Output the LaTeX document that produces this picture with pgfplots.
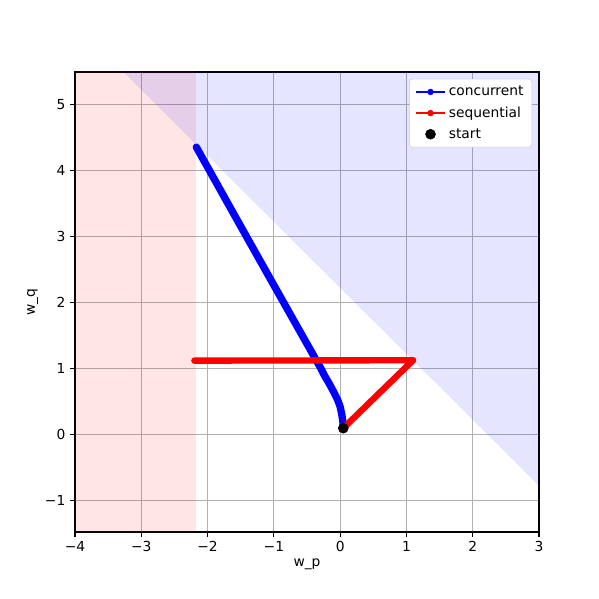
\documentclass[border=0pt]{standalone}
\usepackage{pgfplots}
\pgfplotsset{compat=1.18}
\usepackage{fontspec}
\setmainfont{DejaVu Sans}
\definecolor{gridgray}{HTML}{B0B0B0}
\begin{document}%
\begin{tikzpicture}[font=\fontsize{10}{12}\selectfont]%
\useasboundingbox (-54.3pt,-48.5pt) rectangle (379.3pt,385.1pt);
\begin{axis}[
  at={(0,0)}, anchor=south west,
  scale only axis, width=335.9pt, height=333pt,
  xmin=-4, xmax=3, ymin=-1.48, ymax=5.5,
  xtick={-4,-3,-2,-1,0,1,2,3},
  xticklabels={−4,−3,−2,−1,0,1,2,3},
  ytick={-1,0,1,2,3,4,5},
  yticklabels={−1,0,1,2,3,4,5},
  xtick pos=lower, ytick pos=left,
  tick align=outside,
  major tick length=3.5pt,
  every tick/.style={black, line width=0.8pt},
  axis line style={line width=0.8pt},
  grid=major,
  major grid style={gridgray, line width=0.8pt},
  xlabel={w\_p}, ylabel={w\_q},
  tick label style={font=\fontsize{10}{12}\selectfont},
  label style={font=\fontsize{10}{12}\selectfont},
  xlabel style={yshift=2pt},
  ylabel style={yshift=-2pt},
  legend style={at={(0.985,0.985)}, anchor=north east,
    draw=black!20, rounded corners=2pt, fill=white,
    font=\fontsize{10}{12}\selectfont, row sep=2.5pt, inner xsep=4pt, inner ysep=3pt},
  legend cell align=left,
  legend image code/.code={\draw[mark repeat=2,mark phase=2] plot coordinates {(0cm,0cm) (0.37cm,0cm) (0.74cm,0cm)};},
  clip=true,
]
% shaded regions
\addplot[draw=none, fill=red, fill opacity=0.1, forget plot] coordinates {(-4.5,-2) (-2.18,-2) (-2.18,6) (-4.5,6)} -- cycle;
\addplot[draw=none, fill=blue, fill opacity=0.1, forget plot] coordinates {(-3.77,6) (3.5,6) (3.5,-1.28)} -- cycle;
% start marker (under the lines)
\addplot[only marks, mark=*, mark size=3.6pt, black, forget plot] coordinates {(0.047,0.095)};
% concurrent
\addplot[blue, line width=5.3pt, line cap=round, line join=round, forget plot] coordinates {
(0.047,0.095) (0.04,0.2) (0.025,0.3) (0.0,0.42) (-0.04,0.53) (-0.1,0.65) (-0.17,0.78) (-0.24,0.9) (-0.29,1.0)
(-0.852,2) (-1.412,3) (-2.17,4.36)};
% sequential
\addplot[red, line width=4.6pt, line cap=round, line join=round, forget plot] coordinates {
(0.047,0.095) (1.10,1.126) (-2.2,1.12)};
\addlegendimage{blue, line width=1.5pt, mark=*, mark size=1.5pt}
\addlegendentry{concurrent}
\addlegendimage{red, line width=1.5pt, mark=*, mark size=1.5pt}
\addlegendentry{sequential}
\addlegendimage{only marks, mark=*, black, mark size=3.6pt}
\addlegendentry{start}
\end{axis}
\end{tikzpicture}%
\end{document}
